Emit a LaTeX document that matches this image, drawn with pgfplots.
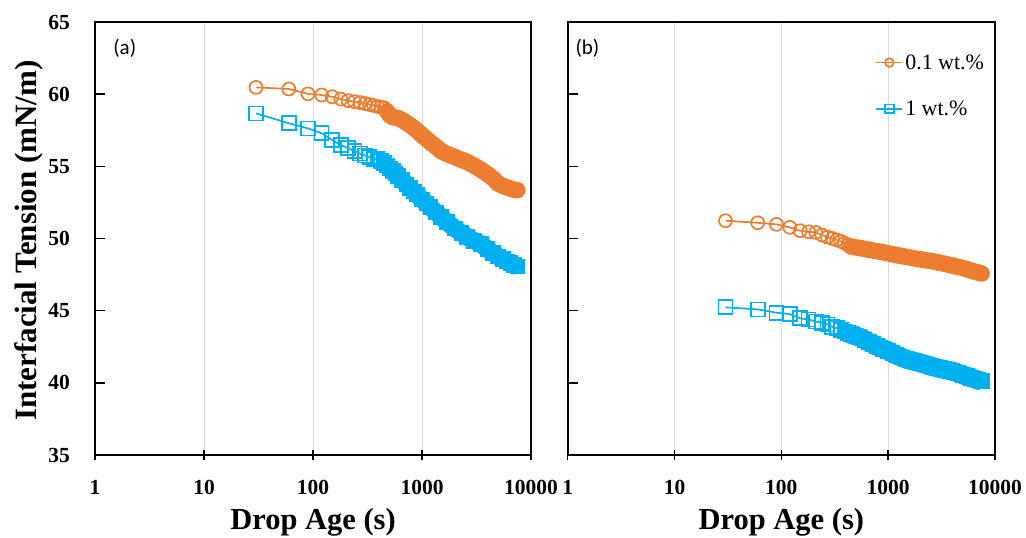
\documentclass[border=0pt]{standalone}
\usepackage{fontspec}
\setmainfont{Liberation Serif}
\newfontfamily\carlito{Carlito}
\usepackage{pgfplots}
\usepackage{pgfplotstable}
\pgfplotsset{compat=1.18}
\definecolor{oc}{RGB}{237,125,49}
\definecolor{bc}{RGB}{0,176,240}
\definecolor{gc}{RGB}{217,217,217}

\pgfplotstableread{
x y
30 60.47
60 60.36
90 60.02
120 59.94
150 59.82
180 59.66
210 59.55
240 59.48
270 59.42
300 59.35
330 59.28
360 59.22
390 59.15
420 59.10
450 59.05
480 58.80
510 58.50
540 58.40
570 58.38
600 58.35
660 58.20
720 58.02
780 57.84
840 57.66
900 57.48
1000 57.15
1100 56.90
1200 56.65
1350 56.35
1500 56.05
1700 55.85
2000 55.65
2300 55.45
2600 55.30
3000 55.05
3500 54.75
4000 54.45
4500 54.15
5000 53.80
5500 53.65
6000 53.55
6500 53.45
7000 53.38
7500 53.35
}\lo

\pgfplotstableread{
x y
30 58.67
60 57.98
90 57.63
120 57.29
150 56.82
180 56.48
210 56.25
240 56.05
270 55.88
300 55.75
330 55.63
360 55.53
390 55.50
420 55.38
450 55.22
480 55.05
510 54.85
540 54.66
570 54.50
600 54.33
660 54.03
720 53.75
780 53.50
840 53.26
900 53.04
1000 52.70
1100 52.42
1200 52.17
1350 51.80
1500 51.50
1700 51.12
2000 50.70
2300 50.38
2600 50.10
3000 49.85
3500 49.60
4000 49.25
4500 48.98
5000 48.75
5500 48.58
6000 48.40
6500 48.28
7000 48.15
7500 48.05
}\lb

\pgfplotstableread{
x y
30 51.23
60 51.09
90 50.98
120 50.77
150 50.54
180 50.47
210 50.42
240 50.24
270 50.10
300 50.00
330 49.90
360 49.80
390 49.68
420 49.55
450 49.45
480 49.40
510 49.37
540 49.34
570 49.31
600 49.28
660 49.22
720 49.17
780 49.12
840 49.08
900 49.04
1000 48.97
1100 48.91
1200 48.85
1350 48.78
1500 48.72
1700 48.64
2000 48.55
2300 48.48
2600 48.42
3000 48.33
3500 48.22
4000 48.12
4500 48.04
5000 47.95
5500 47.86
6000 47.77
6500 47.70
7000 47.63
7500 47.57
}\ro

\pgfplotstableread{
x y
30 45.23
60 45.09
90 44.86
120 44.76
150 44.47
180 44.38
210 44.25
240 44.15
270 44.05
300 43.88
330 43.78
360 43.66
390 43.55
420 43.45
450 43.36
480 43.28
510 43.22
540 43.17
570 43.08
600 42.98
660 42.82
720 42.68
780 42.55
840 42.45
900 42.36
1000 42.22
1100 42.05
1200 41.92
1350 41.75
1500 41.62
1700 41.52
2000 41.38
2300 41.25
2600 41.12
3000 41.00
3500 40.90
4000 40.80
4500 40.68
5000 40.55
5500 40.45
6000 40.35
6500 40.26
7000 40.18
7500 40.12
}\rb

\begin{document}
\begin{tikzpicture}
\useasboundingbox (0,0) rectangle (1026pt,538pt);

\begin{axis}[at={(95pt,83pt)}, anchor=south west, width=436pt, height=433pt,
  scale only axis,
  xmode=log, log basis x=10,
  xmin=1, xmax=10000, ymin=35, ymax=65,
  xtick={1,10,100,1000,10000},
  xticklabels={1,10,100,1000,10000},
  ytick={35,40,45,50,55,60,65},
  yticklabels={35,40,45,50,55,60,65},
  ytick pos=left, xtick pos=bottom,
  tick align=center,
  major tick length=10pt, minor tick length=9pt,
  tick style={line width=1.4pt, black},
  ytick style={xshift=5pt},
  axis line style={line width=1.8pt, black},
  xmajorgrids,
  major x grid style={gc, line width=0.9pt},
  xticklabel style={font=\fontsize{21.5}{21.5}\selectfont\bfseries, anchor=base, yshift=-35pt},
  yticklabel style={font=\fontsize{21.5}{21.5}\selectfont\bfseries, anchor=east, inner sep=0pt, xshift=-20pt},
  xlabel={Drop Age (s)},
  xlabel style={font=\fontsize{30.5}{30.5}\selectfont\bfseries, at={(axis description cs:0.5,-0.171)}, anchor=base},
  ylabel={Interfacial Tension (mN/m)},
  ylabel style={font=\fontsize{31}{31}\selectfont\bfseries, at={(axis description cs:-0.135,0.495)}, anchor=base},
]
\addplot[oc, line width=16.5pt, line cap=round, line join=round, skip coords between index={0}{15}] table {\lo};
\addplot[oc, line width=1.7pt, mark=o, mark size=6.5pt] table {\lo};
\addplot[bc, line width=17.5pt, line cap=butt, line join=round, skip coords between index={0}{14},
  mark=square*, mark size=7pt, mark options={line width=1.7pt, fill=bc}] table {\lb};
\addplot[bc, line width=1.7pt, mark=square, mark size=7pt] table {\lb};
\node[anchor=west, font=\carlito\fontsize{21}{21}\selectfont] at (axis description cs:0.034,0.94) {(a)};
\end{axis}

\begin{axis}[at={(567.7pt,83pt)}, anchor=south west, width=427.3pt, height=433pt,
  scale only axis,
  xmode=log, log basis x=10,
  xmin=1, xmax=10000, ymin=35, ymax=65,
  xtick={1,10,100,1000,10000},
  xticklabels={1,10,100,1000,10000},
  ytick={35,40,45,50,55,60,65},
  yticklabels={},
  ytick pos=left, xtick pos=bottom,
  tick align=center,
  major tick length=10pt, minor tick length=9pt,
  tick style={line width=1.4pt, black},
  ytick style={xshift=5pt},
  axis line style={line width=1.8pt, black},
  xmajorgrids,
  major x grid style={gc, line width=0.9pt},
  xticklabel style={font=\fontsize{21.5}{21.5}\selectfont\bfseries, anchor=base, yshift=-35pt},
  xlabel={Drop Age (s)},
  xlabel style={font=\fontsize{30.5}{30.5}\selectfont\bfseries, at={(axis description cs:0.5,-0.171)}, anchor=base},
  legend cell align=left,
  legend image code/.code={\draw[mark repeat=2,mark phase=2,#1,mark size=4.3pt] plot coordinates {(0pt,0pt) (13pt,0pt) (26pt,0pt)};},
  legend style={draw=none, fill=none, at={(axis description cs:0.72,0.930)}, anchor=north west,
    font=\fontsize{22}{22}\selectfont, row sep=26pt, inner sep=0pt},
]
\addplot[oc, line width=16.5pt, line cap=round, line join=round, skip coords between index={0}{14}, forget plot] table {\ro};
\addplot[oc, line width=1.7pt, mark=o, mark size=6.5pt] table {\ro};
\addlegendentry{0.1 wt.\%}
\addplot[bc, line width=19pt, line cap=butt, line join=round, skip coords between index={0}{13}, forget plot,
  mark=square*, mark size=7pt, mark options={line width=1.7pt, fill=bc}] table {\rb};
\addplot[bc, line width=1.7pt, mark=square, mark size=7pt] table {\rb};
\addlegendentry{1 wt.\%}
\node[anchor=west, font=\carlito\fontsize{21}{21}\selectfont] at (axis description cs:0.01,0.94) {(b)};
\end{axis}
\end{tikzpicture}
\end{document}
